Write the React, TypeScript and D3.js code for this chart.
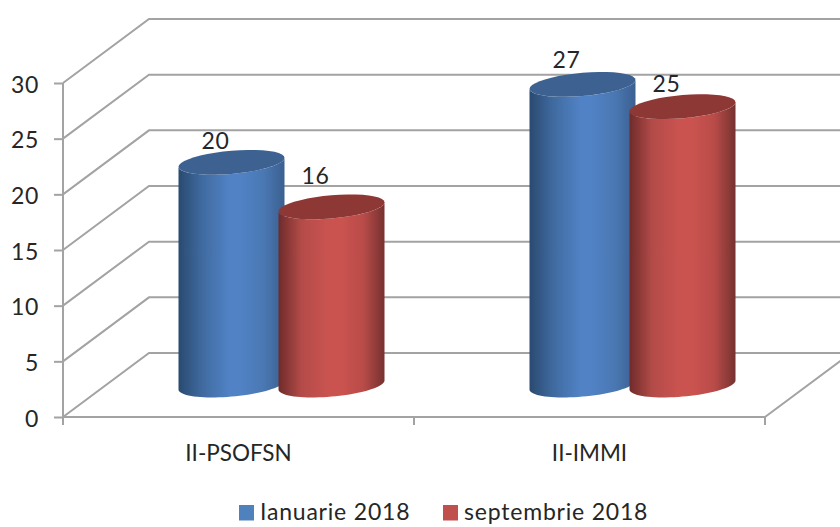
import React, { useEffect, useRef } from "react";
import * as d3 from "d3";

const categories = ["II-PSOFSN", "II-IMMI"];
const seriesNames = ["Ianuarie 2018", "septembrie 2018"];
const ianuarie = [20, 27];
const septembrie = [16, 25];
const yTicks = [0, 5, 10, 15, 20, 25, 30];
// how far each value label sits above its cylinder's top centre, [dx, dy]
const labelNudges = [[[-16, -13], [-16, -16]], [[-16, -23], [-16, -14.5]]];

const seriesValues = [ianuarie, septembrie];
const palettes = [
  { top: "#3c6291", stops: ["#2a4a70", "#3f6a9f", "#5182c5", "#5182c5", "#4a78b3", "#3b6091"], swatch: "#4f81bd" },
  { top: "#8e3735", stops: ["#6f2b2a", "#b44c49", "#cb5350", "#cb5350", "#b94c49", "#763130"], swatch: "#c0504d" },
];
const stopOffsets = [0, 0.22, 0.48, 0.58, 0.8, 1];

const FONT = "Lato, sans-serif";
const TEXT = "#262626";
const GRID = "#a3a3a3";

const App = () => {
  const svgRef = useRef<SVGSVGElement>(null);

  useEffect(() => {
    const width = 840;
    const height = 527;
    const depthX = 86;
    const depthY = 64;
    const rx = 53;
    const ryShear = 4.5;
    const ryOpen = 11.6;

    const svg = d3.select(svgRef.current);
    svg.selectAll("*").remove();

    const y = d3.scaleLinear().domain([0, 30]).range([417, 83]);
    const x0 = d3.scaleBand().domain(categories).range([63, 765]);
    const x1 = d3.scaleBand().domain(seriesNames).range([-100, 100]);

    // Gradients for the cylinder sides
    const defs = svg.append("defs");
    palettes.forEach((p, i) => {
      const grad = defs.append("linearGradient").attr("id", `side${i}`);
      p.stops.forEach((c, j) => {
        grad.append("stop").attr("offset", stopOffsets[j]).attr("stop-color", c);
      });
    });
    const soft = defs.append("filter").attr("id", "soft");
    soft.append("feGaussianBlur").attr("stdDeviation", 0.45);

    // Back wall gridlines and the diagonals of the side wall
    const grid = svg.append("g").attr("stroke", GRID).attr("stroke-width", 2).attr("fill", "none").attr("filter", "url(#soft)");
    yTicks.forEach((t) => {
      const line = d3.line();
      grid.append("path").attr("d", line([
        [x0.range()[0], y(t)],
        [x0.range()[0] + depthX, y(t) - depthY],
        [width + 10, y(t) - depthY],
      ]));
    });
    // Floor edge on the right
    grid.append("line")
      .attr("x1", x0.range()[1]).attr("y1", y(0))
      .attr("x2", x0.range()[1] + depthX).attr("y2", y(0) - depthY);

    // Y axis
    const yAxis = svg.append("g")
      .attr("transform", `translate(${x0.range()[0]},0)`)
      .call(d3.axisLeft(y).tickValues(yTicks).tickSize(9).tickPadding(15));
    yAxis.select(".domain").remove();
    yAxis.selectAll("line").attr("stroke", GRID).attr("stroke-width", 2);
    yAxis.selectAll("text")
      .attr("font-family", FONT).attr("font-size", 23).attr("letter-spacing", 0.7).attr("fill", TEXT)
      .attr("dy", 0).attr("dominant-baseline", "central");

    // X axis line, ticks on the band edges, labels under the bands
    const edges = [...categories.map((c) => x0(c) as number), x0.range()[1]];
    const xLines = svg.append("g").attr("stroke", GRID).attr("stroke-width", 2).attr("filter", "url(#soft)");
    xLines.append("line").attr("x1", x0.range()[0]).attr("x2", x0.range()[1]).attr("y1", y(0)).attr("y2", y(0));
    xLines.append("line").attr("x1", x0.range()[0]).attr("x2", x0.range()[0]).attr("y1", y(30)).attr("y2", y(0));
    edges.forEach((e) => {
      xLines.append("line").attr("x1", e).attr("x2", e).attr("y1", y(0)).attr("y2", y(0) + 8);
    });
    const xAxis = svg.append("g")
      .attr("transform", `translate(0,${y(0)})`)
      .call(d3.axisBottom(x0).tickSize(0).tickPadding(28));
    xAxis.select(".domain").remove();
    xAxis.selectAll("text")
      .attr("font-family", FONT).attr("font-size", 22.5).attr("fill", TEXT);

    // Points on a sheared ellipse, from the left tangent through the given half
    const rim = (cx, cy, from, to) =>
      d3.range(0, 41).map((k) => {
        const t = from + ((to - from) * k) / 40;
        return [cx - rx * Math.cos(t), cy + ryShear * Math.cos(t) + ryOpen * Math.sin(t)] as [number, number];
      });

    const line = d3.line();

    // Cylinders, one category at a time; red sits on top of blue
    const bars = svg.append("g").attr("filter", "url(#soft)");
    const labels: { x: number; y: number; v: number }[] = [];
    categories.forEach((cat, ci) => {
      seriesNames.forEach((name, si) => {
        const v = seriesValues[si][ci];
        const cx = (x0(cat) as number) + x0.bandwidth() / 2 + depthX / 2 + (x1(name) as number) + x1.bandwidth() / 2;
        const yBase = y(0) - depthY / 2;
        const yTop = y(v) - depthY / 2;
        const lower = rim(cx, yBase, 0, Math.PI);
        const upper = rim(cx, yTop, Math.PI, 0);
        bars.append("path")
          .attr("d", line([...lower, ...upper]) + "Z")
          .attr("fill", `url(#side${si})`);
        bars.append("path")
          .attr("d", line(rim(cx, yTop, 0, Math.PI * 2)) + "Z")
          .attr("fill", palettes[si].top);
        const [dx, dy] = labelNudges[si][ci];
        labels.push({ x: cx + dx, y: yTop + dy, v });
      });
    });

    // Value labels
    svg.append("g").selectAll("text")
      .data(labels)
      .enter()
      .append("text")
      .attr("x", (d) => d.x)
      .attr("y", (d) => d.y)
      .attr("text-anchor", "middle")
      .attr("font-family", FONT)
      .attr("font-size", 23)
      .attr("letter-spacing", 0.7)
      .attr("fill", TEXT)
      .text((d) => d.v);

    // Legend
    const legendX = [239, 443];
    const legend = svg.append("g");
    seriesNames.forEach((name, i) => {
      legend.append("rect")
        .attr("x", legendX[i]).attr("y", 505)
        .attr("width", 15).attr("height", 15.5)
        .attr("fill", palettes[i].swatch);
      legend.append("text")
        .attr("x", legendX[i] + 21).attr("y", 520)
        .attr("font-family", FONT).attr("font-size", 23).attr("letter-spacing", 0.8).attr("fill", TEXT)
        .text(name);
    });

    svg.attr("width", width).attr("height", height);
  }, []);

  return (
    <div style={{ position: "absolute", left: 0, top: 0, width: 840, height: 527, background: "#fff", overflow: "hidden" }}>
      <svg ref={svgRef} style={{ display: "block" }}></svg>
    </div>
  );
};

export default App;
